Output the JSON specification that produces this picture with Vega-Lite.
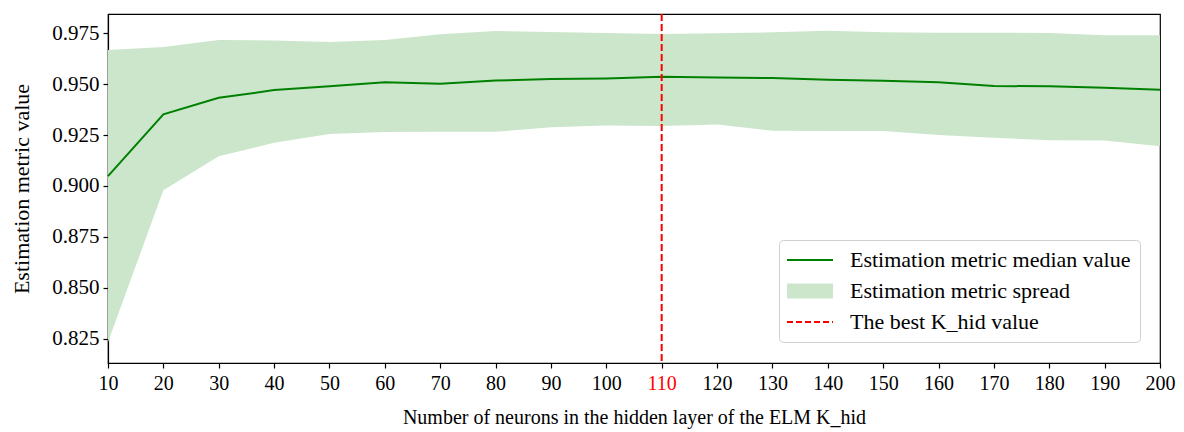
{
  "$schema": "https://vega.github.io/schema/vega-lite/v6.json",
  "width": 1052,
  "height": 349,
  "autosize": {"type": "none"},
  "padding": {"left": 108, "top": 14, "right": 24, "bottom": 69},
  "config": {
    "font": "Liberation Serif",
    "view": {"stroke": "black", "strokeWidth": 1.2},
    "axis": {
      "grid": false,
      "domainColor": "black",
      "domainWidth": 1.2,
      "tickColor": "black",
      "tickWidth": 1.2,
      "tickSize": 5,
      "labelColor": "black",
      "titleColor": "black",
      "labelFontSize": 20,
      "titleFontSize": 20,
      "titleFontWeight": "normal",
      "labelFont": "Liberation Serif",
      "titleFont": "Liberation Serif",
      "labelFlush": false,
      "labelOverlap": false
    },
    "legend": {
      "orient": "none",
      "legendX": 671,
      "legendY": 226,
      "symbolType": "stroke",
      "symbolSize": 2116,
      "symbolOffset": 11,
      "labelFontSize": 22,
      "labelLimit": 400,
      "labelFont": "Liberation Serif",
      "labelColor": "black",
      "labelOffset": 29,
      "padding": 9,
      "strokeColor": "#d0d0d0",
      "fillColor": "white",
      "cornerRadius": 4,
      "gridAlign": "none",
      "rowPadding": -10
    }
  },
  "layer": [
    {
      "data": {
        "values": [
          {"k": 10, "median": 0.9048, "lo": 0.8233, "hi": 0.9668},
          {"k": 20, "median": 0.9352, "lo": 0.8979, "hi": 0.9683},
          {"k": 30, "median": 0.9433, "lo": 0.9146, "hi": 0.9717},
          {"k": 40, "median": 0.9471, "lo": 0.9212, "hi": 0.9715},
          {"k": 50, "median": 0.9490, "lo": 0.9255, "hi": 0.9707},
          {"k": 60, "median": 0.9510, "lo": 0.9265, "hi": 0.9717},
          {"k": 70, "median": 0.9502, "lo": 0.9266, "hi": 0.9745},
          {"k": 80, "median": 0.9518, "lo": 0.9266, "hi": 0.9761},
          {"k": 90, "median": 0.9525, "lo": 0.9288, "hi": 0.9757},
          {"k": 100, "median": 0.9528, "lo": 0.9297, "hi": 0.9752},
          {"k": 110, "median": 0.9537, "lo": 0.9295, "hi": 0.9747},
          {"k": 120, "median": 0.9533, "lo": 0.9302, "hi": 0.9750},
          {"k": 130, "median": 0.9530, "lo": 0.9271, "hi": 0.9755},
          {"k": 140, "median": 0.9522, "lo": 0.9270, "hi": 0.9763},
          {"k": 150, "median": 0.9517, "lo": 0.9270, "hi": 0.9755},
          {"k": 160, "median": 0.9510, "lo": 0.9250, "hi": 0.9753},
          {"k": 170, "median": 0.9491, "lo": 0.9237, "hi": 0.9753},
          {"k": 180, "median": 0.9490, "lo": 0.9225, "hi": 0.9752},
          {"k": 190, "median": 0.9483, "lo": 0.9223, "hi": 0.9740},
          {"k": 200, "median": 0.9473, "lo": 0.9195, "hi": 0.9740}
        ]
      },
      "layer": [
        {
          "mark": {"type": "area", "opacity": 1},
          "encoding": {
            "x": {
              "field": "k",
              "type": "quantitative",
              "scale": {"domain": [10, 200], "nice": false, "zero": false},
              "axis": {
                "title": "Number of neurons in the hidden layer of the ELM K_hid",
                "values": [10, 20, 30, 40, 50, 60, 70, 80, 90, 100, 110, 120, 130, 140, 150, 160, 170, 180, 190, 200],
                "labelPadding": 5,
                "titlePadding": 14,
                "labelColor": {"condition": {"test": "datum.value === 110", "value": "#ff0000"}, "value": "black"}
              }
            },
            "y": {
              "field": "lo",
              "type": "quantitative",
              "scale": {"domain": [0.813, 0.9845], "nice": false, "zero": false},
              "axis": {
                "title": "Estimation metric value",
                "values": [0.825, 0.85, 0.875, 0.9, 0.925, 0.95, 0.975],
                "format": ".3f",
                "labelFontSize": 21,
                "titleFontSize": 22,
                "labelPadding": 4,
                "titlePadding": 18
              }
            },
            "y2": {"field": "hi"},
            "color": {
              "datum": "Estimation metric spread",
              "type": "nominal",
              "scale": {
                "domain": ["Estimation metric median value", "Estimation metric spread", "The best K_hid value"],
                "range": ["#008000", "#cce6cc", "#ff0000"]
              },
              "legend": {
                "title": null,
                "symbolType": "stroke",
                "encode": {
                  "symbols": {
                    "update": {
                      "stroke": {"scale": "color", "field": "value"},
                      "fill": {"value": "transparent"},
                      "strokeWidth": {"signal": "datum.value === 'Estimation metric spread' ? 15 : 2"},
                      "strokeDash": {"signal": "datum.value === 'The best K_hid value' ? [6, 3] : [1, 0]"},
                      "opacity": {"value": 1}
                    }
                  }
                }
              }
            }
          }
        },
        {
          "mark": {"type": "line", "strokeWidth": 2},
          "encoding": {
            "x": {"field": "k", "type": "quantitative"},
            "y": {"field": "median", "type": "quantitative"},
            "color": {
              "datum": "Estimation metric median value",
              "type": "nominal",
              "legend": {
                "title": null,
                "symbolType": "stroke",
                "encode": {
                  "symbols": {
                    "update": {
                      "stroke": {"scale": "color", "field": "value"},
                      "fill": {"value": "transparent"},
                      "strokeWidth": {"signal": "datum.value === 'Estimation metric spread' ? 15 : 2"},
                      "strokeDash": {"signal": "datum.value === 'The best K_hid value' ? [6, 3] : [1, 0]"},
                      "opacity": {"value": 1}
                    }
                  }
                }
              }
            }
          }
        }
      ]
    },
    {
      "data": {"values": [{"best": 110}]},
      "mark": {"type": "rule", "strokeWidth": 2, "strokeDash": [7, 3]},
      "encoding": {
        "x": {"field": "best", "type": "quantitative"},
        "color": {
          "datum": "The best K_hid value",
          "type": "nominal",
          "legend": {
            "title": null,
            "symbolType": "stroke",
            "encode": {
              "symbols": {
                "update": {
                  "stroke": {"scale": "color", "field": "value"},
                  "fill": {"value": "transparent"},
                  "strokeWidth": {"signal": "datum.value === 'Estimation metric spread' ? 15 : 2"},
                  "strokeDash": {"signal": "datum.value === 'The best K_hid value' ? [6, 3] : [1, 0]"},
                  "opacity": {"value": 1}
                }
              }
            }
          }
        }
      }
    }
  ]
}
